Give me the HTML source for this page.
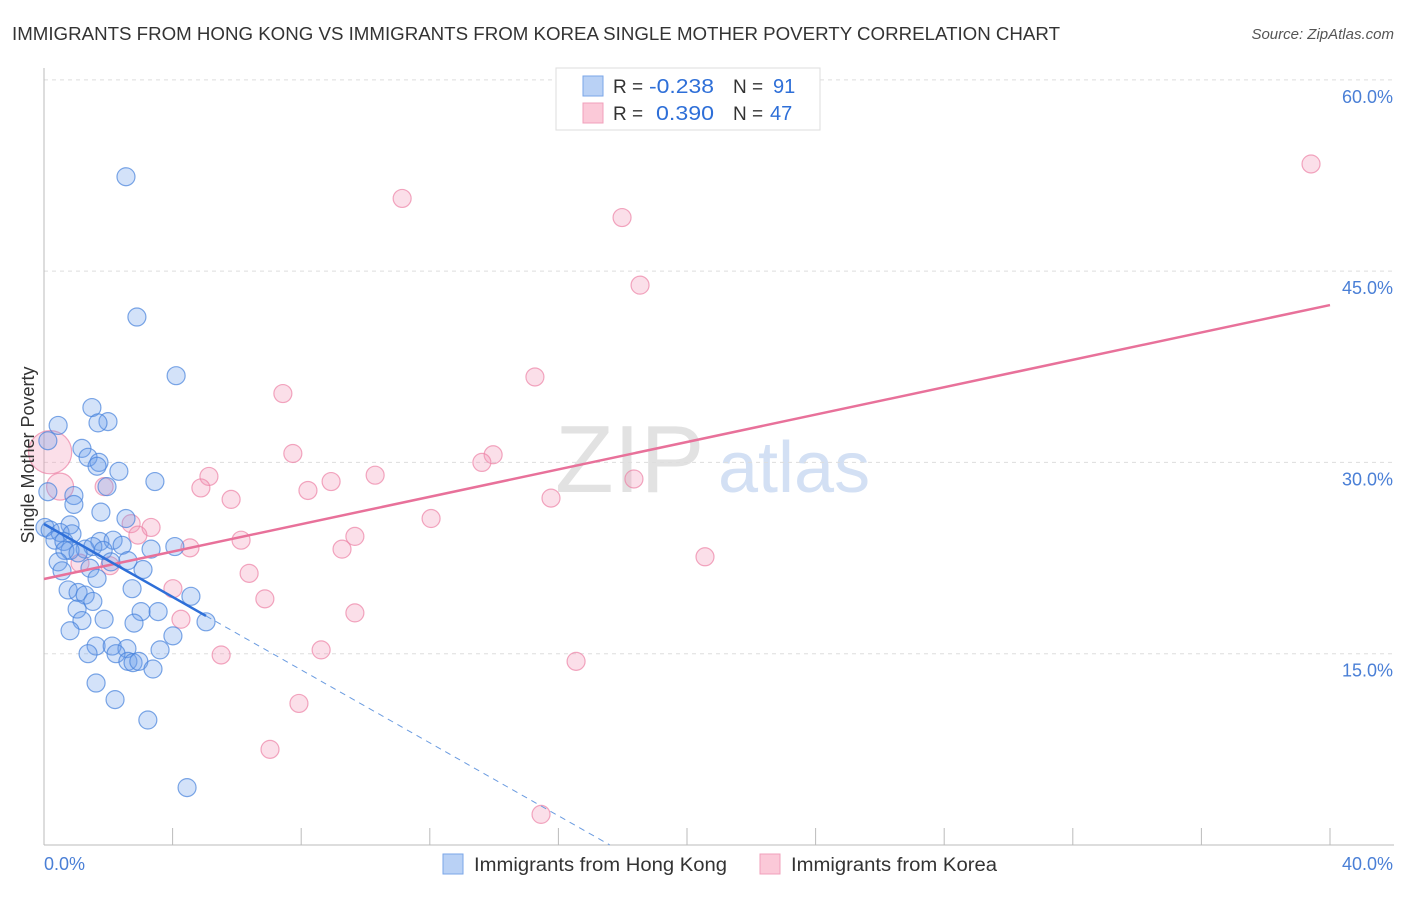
<!DOCTYPE html>
<html><head><meta charset="utf-8"><style>
body{margin:0;background:#fff;font-family:"Liberation Sans",sans-serif;}
svg text{font-family:"Liberation Sans",sans-serif;}
</style></head><body>
<svg id="chart" width="1406" height="892" xmlns="http://www.w3.org/2000/svg">
<text x="12" y="40" font-size="18" fill="#333" textLength="1048" lengthAdjust="spacingAndGlyphs">IMMIGRANTS FROM HONG KONG VS IMMIGRANTS FROM KOREA SINGLE MOTHER POVERTY CORRELATION CHART</text>
<text x="1394" y="39" font-size="15" fill="#555" font-style="italic" text-anchor="end">Source: ZipAtlas.com</text>
<g>
<text x="555" y="492" font-size="96" font-family="Liberation Serif" fill="#e2e2e2">ZIP</text>
<text x="718" y="492" font-size="72" fill="#d3e0f4">atlas</text>
</g>
<g id="grid"></g>
<g id="axes"></g>
<g id="pts"></g>
<g id="lines"></g>
<text transform="translate(34,455) rotate(-90)" font-size="18" fill="#333" text-anchor="middle">Single Mother Poverty</text>
<g>
<rect x="556" y="68" width="264" height="62" fill="#fff" stroke="#ddd"/>
<rect x="583" y="76" width="20" height="20" fill="#b9d1f5" stroke="#7aa6e8"/>
<rect x="583" y="103" width="20" height="20" fill="#fbc9d8" stroke="#f0a0bb"/>
<text x="613" y="93" font-size="19" fill="#333">R =</text>
<text x="649" y="93" font-size="20" fill="#2e6fd8" textLength="65" lengthAdjust="spacingAndGlyphs">-0.238</text>
<text x="733" y="93" font-size="19" fill="#333">N =</text>
<text x="773" y="93" font-size="20" fill="#2e6fd8">91</text>
<text x="613" y="120" font-size="19" fill="#333">R =</text>
<text x="656" y="120" font-size="20" fill="#2e6fd8" textLength="58" lengthAdjust="spacingAndGlyphs">0.390</text>
<text x="733" y="120" font-size="19" fill="#333">N =</text>
<text x="770" y="120" font-size="20" fill="#2e6fd8">47</text>
</g>
<g>
<rect x="443" y="854" width="20" height="20" fill="#b9d1f5" stroke="#7aa6e8"/>
<text x="474" y="871" font-size="19" fill="#333" textLength="253" lengthAdjust="spacingAndGlyphs">Immigrants from Hong Kong</text>
<rect x="760" y="854" width="20" height="20" fill="#fbc9d8" stroke="#f0a0bb"/>
<text x="791" y="871" font-size="19" fill="#333" textLength="206" lengthAdjust="spacingAndGlyphs">Immigrants from Korea</text>
</g>
</svg>
<script>
const blueX=[2.55,2.89,4.11,1.49,1.99,1.68,0.44,1.18,1.37,1.71,1.65,2.33,3.45,1.96,0.12,0.93,0.93,1.77,2.55,0.81,0.03,0.19,0.50,0.87,0.34,0.62,1.74,2.15,2.43,1.28,1.52,0.81,0.65,1.06,1.84,3.33,4.07,2.08,2.61,0.44,0.56,1.43,3.08,1.65,2.74,0.75,1.06,1.28,1.52,4.57,3.02,3.55,1.03,1.18,1.87,2.80,5.04,0.81,4.01,1.62,2.12,2.58,3.61,1.37,2.24,2.61,2.77,2.95,3.39,1.62,2.21,3.23,4.45,0.12];
const blueY=[52.4,41.4,36.8,34.3,33.2,33.1,32.9,31.1,30.4,30.0,29.7,29.3,28.5,28.1,27.7,27.4,26.7,26.1,25.6,25.1,24.9,24.7,24.5,24.4,23.9,23.8,23.8,23.9,23.5,23.2,23.4,23.1,23.1,22.9,23.1,23.2,23.4,22.2,22.3,22.2,21.5,21.7,21.6,20.9,20.1,20.0,19.8,19.6,19.1,19.5,18.3,18.3,18.5,17.6,17.7,17.4,17.5,16.8,16.4,15.6,15.6,15.4,15.3,15.0,15.0,14.4,14.3,14.4,13.8,12.7,11.4,9.8,4.5,31.7];
const pinkX=[39.41,11.14,17.98,18.54,7.43,15.27,7.74,13.97,13.62,18.35,10.30,5.13,8.21,8.93,4.88,5.82,15.77,12.04,2.71,3.33,6.13,9.67,9.27,4.54,2.92,20.56,6.38,6.87,4.01,9.67,4.26,5.51,8.62,7.93,7.03,16.55,15.46,1.87,2.05,1.12,0.19,0.50];
const pinkY=[53.4,50.7,49.2,43.9,35.4,36.7,30.7,30.6,30.0,28.7,29.0,28.9,27.8,28.5,28.0,27.1,27.2,25.6,25.2,24.9,23.9,24.2,23.2,23.3,24.3,22.6,21.3,19.3,20.1,18.2,17.7,14.9,15.3,11.1,7.5,14.4,2.4,28.1,21.9,22.1,30.8,28.1];
const pinkSize=[1,1,1,1,1,1,1,1,1,1,1,1,1,1,1,1,1,1,1,1,1,1,1,1,1,1,1,1,1,1,1,1,1,1,1,1,1,1,1,1,2.4,1.5];
const yTicks=[15,30,45,60];
const yTickLabels=["15.0%","30.0%","45.0%","60.0%"];
const xTickLabels=["0.0%","40.0%"];
const blueTrend=[25.17,-1.43];
const pinkTrend=[20.86,0.537];
const NS="http://www.w3.org/2000/svg";
const X=v=>44+v*32.15, Y=v=>845-v*12.753;
function mk(t,a,p){const e=document.createElementNS(NS,t);for(const k in a)e.setAttribute(k,a[k]);p.appendChild(e);return e;}
const grid=document.getElementById('grid'),axes=document.getElementById('axes');
yTicks.forEach((t,i)=>{
 const l=mk('line',{x1:44,x2:1394,y1:Y(t),y2:Y(t),stroke:'#ddd','stroke-dasharray':'4,4'},grid);
 
 
 const tx=mk('text',{x:1393,y:Y(t)+23,'font-size':18,fill:'#4a7fd6','text-anchor':'end'},axes);
 tx.textContent=yTickLabels[i];
 
 
});
const ya=mk('line',{x1:44,x2:44,y1:68,y2:845,stroke:'#bbb'},axes);


const xa=mk('line',{x1:44,x2:1394,y1:845,y2:845,stroke:'#bbb'},axes);


for(let i=0;i<=10;i++){
 const tk=mk('line',{x1:X(i*4),x2:X(i*4),y1:828,y2:845,stroke:'#bbb'},axes);
 
 
}
[[0,'start',44],[40,'end',1393]].forEach((d,i)=>{
 const tx=mk('text',{x:d[2],y:870,'font-size':18,fill:'#4a7fd6','text-anchor':d[1]},axes);
 tx.textContent=xTickLabels[i];
 
 
});
const pts=document.getElementById('pts');
pinkX.forEach((x,i)=>{
 const c=mk('circle',{cx:X(x),cy:Y(pinkY[i]),r:9*pinkSize[i],fill:'rgba(242,150,182,0.3)',stroke:'rgba(236,130,165,0.7)','stroke-width':1.2},pts);
 
 
});
blueX.forEach((x,i)=>{
 const c=mk('circle',{cx:X(x),cy:Y(blueY[i]),r:9,fill:'rgba(110,160,235,0.3)',stroke:'rgba(70,130,220,0.7)','stroke-width':1.2},pts);
 
 
});
const ln=document.getElementById('lines');
const pl=mk('line',{x1:X(0),y1:Y(pinkTrend[0]),x2:X(40),y2:Y(pinkTrend[0]+40*pinkTrend[1]),stroke:'#e8719a','stroke-width':2.5},ln);


const bEnd=5.04, bZero=-blueTrend[0]/blueTrend[1];
const bl=mk('line',{x1:X(0),y1:Y(blueTrend[0]),x2:X(bEnd),y2:Y(blueTrend[0]+bEnd*blueTrend[1]),stroke:'#2e6fd8','stroke-width':2.5},ln);


const bd=mk('line',{x1:X(bEnd),y1:Y(blueTrend[0]+bEnd*blueTrend[1]),x2:X(bZero),y2:Y(0),stroke:'#6a9be0','stroke-width':1,'stroke-dasharray':'6,5'},ln);


</script>
</body></html>
